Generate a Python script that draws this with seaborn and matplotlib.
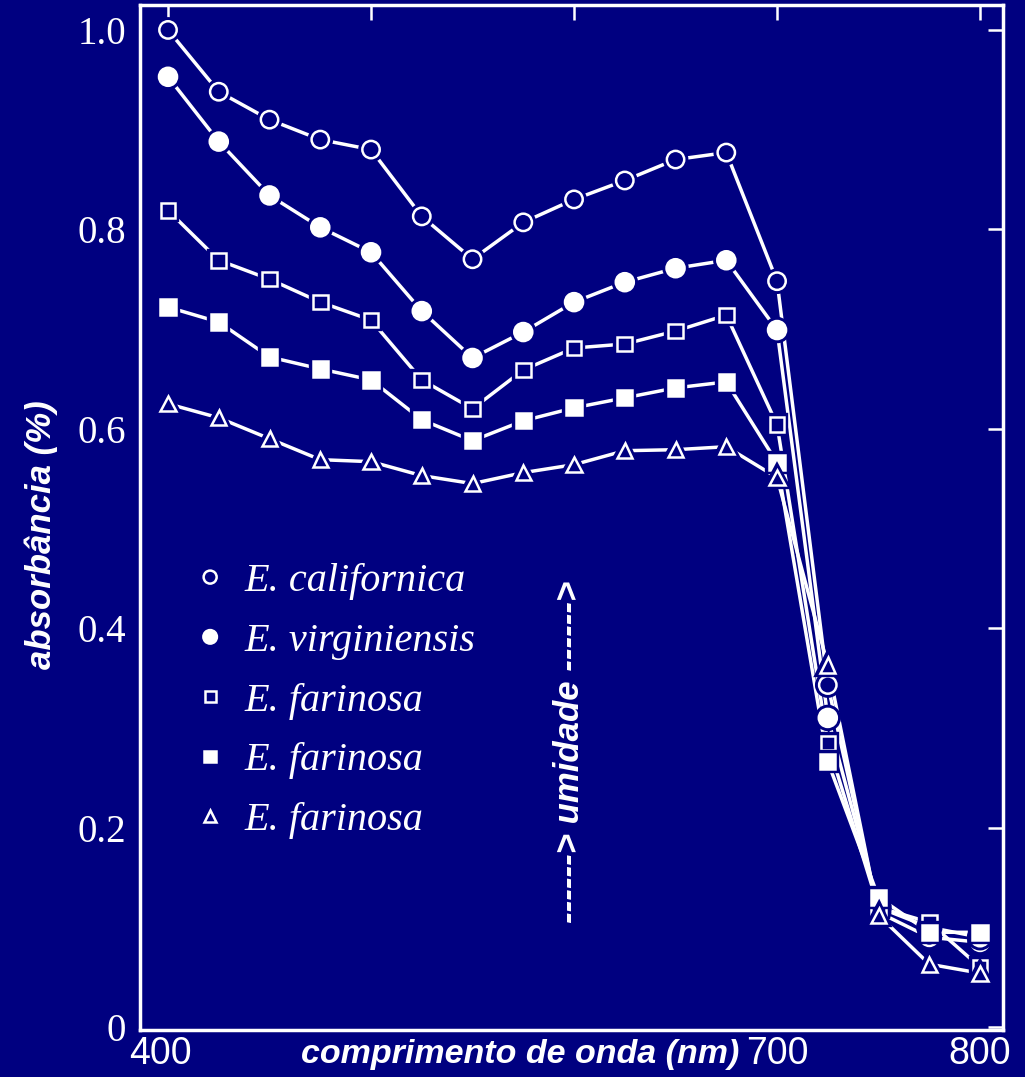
import numpy as np
import pandas as pd
import seaborn as sns
import matplotlib
matplotlib.use("Agg")
import matplotlib.pyplot as plt
import matplotlib.patheffects as pe
import matplotlib.transforms as mtransforms

# ---- data ----
wavelength = [400, 425, 450, 475, 500, 525, 550, 575, 600, 625, 650, 675, 700, 725, 750, 775, 800]
californica = [1.0, 0.938, 0.91, 0.89, 0.88, 0.813, 0.77, 0.807, 0.83, 0.849, 0.87, 0.877, 0.748, 0.343, 0.115, 0.09, 0.085]
virginiensis = [0.953, 0.888, 0.834, 0.802, 0.777, 0.718, 0.671, 0.697, 0.727, 0.747, 0.761, 0.769, 0.699, 0.31, 0.12, 0.10, 0.09]
farinosa_1 = [0.819, 0.769, 0.75, 0.727, 0.709, 0.649, 0.62, 0.659, 0.681, 0.685, 0.698, 0.714, 0.604, 0.285, 0.12, 0.105, 0.06]
farinosa_2 = [0.722, 0.707, 0.672, 0.66, 0.649, 0.609, 0.588, 0.608, 0.621, 0.631, 0.641, 0.647, 0.566, 0.266, 0.13, 0.095, 0.095]
farinosa_3 = [0.625, 0.611, 0.59, 0.569, 0.567, 0.553, 0.545, 0.556, 0.564, 0.578, 0.579, 0.582, 0.551, 0.363, 0.112, 0.063, 0.054]
series_labels = ["E. californica", "E. virginiensis", "E. farinosa", "E. farinosa", "E. farinosa"]
x_ticks = [400, 500, 600, 700, 800]
x_tick_labels = ["400", "", "", "700", "800"]
y_ticks = [0, 0.2, 0.4, 0.6, 0.8, 1.0]
y_tick_labels = ["0", "0.2", "0.4", "0.6", "0.8", "1.0"]

NAVY = "#000080"
WHITE = "white"

sns.set_theme(style="white")
plt.rcParams["font.family"] = ["Liberation Sans", "DejaVu Sans"]

fig = plt.figure(figsize=(10.25, 10.77), dpi=100, facecolor=NAVY)
ax = fig.add_axes([140 / 1025, 1 - 1030 / 1077, 863 / 1025, 1025 / 1077])
ax.set_facecolor(NAVY)

series = [californica, virginiensis, farinosa_1, farinosa_2, farinosa_3]
styles = [
    dict(marker="o", ms=12.5, mfc=NAVY),
    dict(marker="o", ms=13, mfc=WHITE),
    dict(marker="s", ms=10.5, mfc=NAVY),
    dict(marker="s", ms=11, mfc=WHITE),
    dict(marker="^", ms=11, mfc=NAVY),
]

# lines
for vals in series:
    sns.lineplot(x=wavelength, y=vals, ax=ax, color=WHITE, lw=2.5, legend=False)

# markers with navy halo (gives the gap between line and marker)
handles = []
for vals, st, lab in zip(series, styles, series_labels):
    sns.lineplot(x=wavelength, y=vals, ax=ax, linestyle="", marker=st["marker"],
                 markersize=st["ms"], markerfacecolor=st["mfc"], markeredgecolor=WHITE,
                 markeredgewidth=1.8, legend=False,
                 path_effects=[pe.withStroke(linewidth=6, foreground=NAVY)])
    handles.append(ax.lines[-1])

ax.set_xlim(386.2, 811.3)
ax.set_ylim(-0.003, 1.025)

for s in ax.spines.values():
    s.set_color(WHITE)
    s.set_linewidth(2.5)
    s.set_visible(True)

ax.set_xticks(x_ticks)
ax.set_xticklabels(x_tick_labels, fontsize=27, color=WHITE, family="Liberation Sans")
ax.set_yticks(y_ticks)
ax.set_yticklabels(y_tick_labels, fontsize=28, color=WHITE, family="Liberation Serif")
ax.tick_params(axis="both", which="both", direction="in", top=True, right=True,
               length=11, width=1.8, color=WHITE)
ax.tick_params(axis="y", pad=10)
ax.tick_params(axis="x", pad=4)

# the "400" label sits a little left of its tick in the reference
first_tick = ax.xaxis.get_major_ticks()[0]
first_tick.label1.set_transform(first_tick.label1.get_transform() +
                                mtransforms.ScaledTranslation(-8 / 100, 0, fig.dpi_scale_trans))

ax.set_xlabel("comprimento de onda (nm)", fontsize=24.5, color=WHITE,
              fontweight="bold", fontstyle="italic")
ax.xaxis.set_label_coords(0.441, -0.024)
ax.xaxis.label.set_va("center")
ax.set_ylabel("absorbância (%)", fontsize=25, color=WHITE,
              fontweight="bold", fontstyle="italic")
ax.yaxis.set_label_coords(-0.114, 0.483)
ax.yaxis.label.set_va("center")

ax.text(598, 0.276, "------> umidade ------>", rotation=90, ha="center", va="center",
        fontsize=25, color=WHITE, fontweight="bold", fontstyle="italic")

leg = ax.legend(handles, series_labels, loc="upper left",
                bbox_to_anchor=(190 / 1025, 1 - 563 / 1077), bbox_transform=fig.transFigure,
                frameon=False, markerscale=0.75, handlelength=1.0, handletextpad=0.36,
                labelspacing=0.56, borderpad=0, borderaxespad=0,
                prop=dict(family="Liberation Serif", style="italic", size=29))
for t in leg.get_texts():
    t.set_color(WHITE)

fig.savefig("out.png", dpi=100, facecolor=NAVY)
